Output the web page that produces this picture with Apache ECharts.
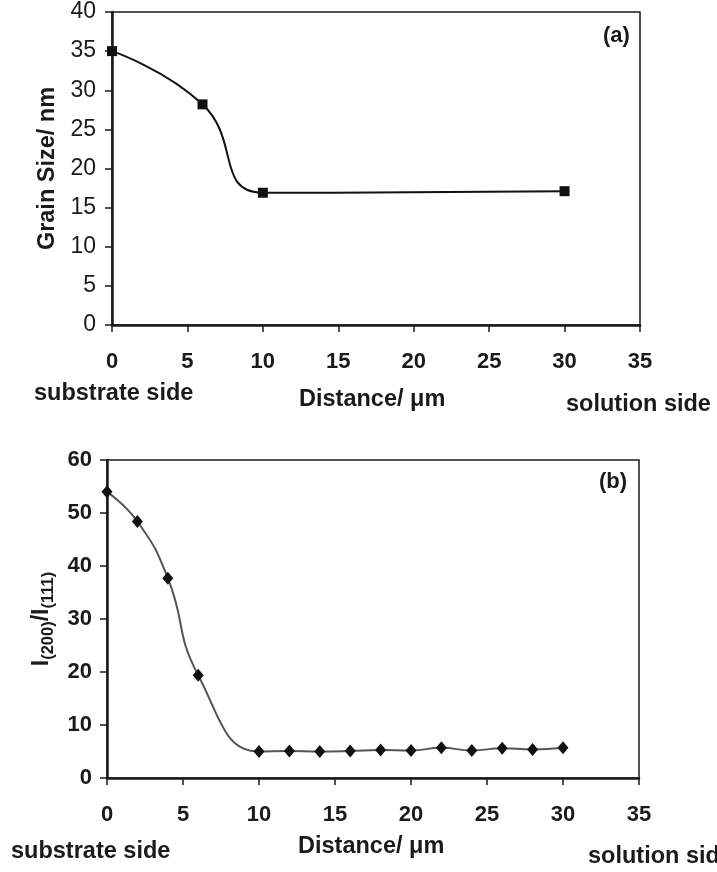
<!DOCTYPE html>
<html>
<head>
<meta charset="utf-8">
<script src="https://cdn.jsdelivr.net/npm/echarts@6/dist/echarts.min.js"></script>
<style>
html,body{margin:0;padding:0;background:#fff;}
#chart{width:717px;height:872px;}
</style>
</head>
<body>
<div id="chart"></div>
<script>
// ---- data ----
const distA = [0, 6, 10, 30];
const grainSize = [35.0, 28.2, 16.9, 17.1];
const distB = [0, 2, 4, 6, 10, 12, 14, 16, 18, 20, 22, 24, 26, 28, 30];
const intensityRatio = [54.0, 48.4, 37.7, 19.4, 5.0, 5.1, 5.0, 5.1, 5.3, 5.2, 5.7, 5.2, 5.6, 5.4, 5.7];
const xTicks = [0, 5, 10, 15, 20, 25, 30, 35];
const yTicksA = [0, 5, 10, 15, 20, 25, 30, 35, 40];
const yTicksB = [0, 10, 20, 30, 40, 50, 60];

const FONT = '"Liberation Sans", Arial, sans-serif';
const INK = '#1a1a1a';

function pairs(xs, ys) { return xs.map((x, i) => [x, ys[i]]); }

const chart = echarts.init(document.getElementById('chart'), null, {renderer: 'canvas'});

function xAxisCfg(gridIndex) {
  return {
    type: 'value', gridIndex: gridIndex,
    min: xTicks[0], max: xTicks[xTicks.length - 1], interval: 5,
    axisLine: {show: true, lineStyle: {color: INK, width: 2.5}},
    axisTick: {show: true, inside: false, length: 7, lineStyle: {color: INK, width: 1.5}},
    axisLabel: {show: true, margin: 26, fontFamily: FONT, fontWeight: 'bold', fontSize: 22, color: INK},
    splitLine: {show: false}
  };
}

const option = {
  animation: false,
  backgroundColor: '#fff',
  grid: [
    {left: 112, top: 12, width: 528, height: 313, show: true, borderColor: INK, borderWidth: 1.5, containLabel: false},
    {left: 107, top: 460, width: 532, height: 318, show: true, borderColor: INK, borderWidth: 1.5, containLabel: false}
  ],
  xAxis: [xAxisCfg(0), xAxisCfg(1)],
  yAxis: [
    {
      type: 'value', gridIndex: 0,
      min: yTicksA[0], max: yTicksA[yTicksA.length - 1], interval: 5,
      axisLine: {show: true, lineStyle: {color: INK, width: 2.5}},
      axisTick: {show: true, length: 7, lineStyle: {color: INK, width: 1.5}},
      axisLabel: {margin: 16, fontFamily: FONT, fontSize: 23, color: INK},
      splitLine: {show: false},
      name: 'Grain Size/ nm', nameLocation: 'middle', nameRotate: 90, nameGap: 52,
      nameTextStyle: {fontFamily: FONT, fontWeight: 'bold', fontSize: 23.5, color: INK}
    },
    {
      type: 'value', gridIndex: 1,
      min: yTicksB[0], max: yTicksB[yTicksB.length - 1], interval: 10,
      axisLine: {show: true, lineStyle: {color: INK, width: 2.5}},
      axisTick: {show: true, length: 7, lineStyle: {color: INK, width: 1.5}},
      axisLabel: {margin: 15, fontFamily: FONT, fontWeight: 'bold', fontSize: 22, color: INK},
      splitLine: {show: false},
      name: '{b|I}{s|(200)}{b|/I}{s|(111)}', nameLocation: 'middle', nameRotate: 90, nameGap: 50,
      nameTextStyle: {
        fontFamily: FONT, fontWeight: 'bold', fontSize: 23, color: INK,
        rich: {
          b: {fontFamily: FONT, fontWeight: 'bold', fontSize: 23, color: INK, lineHeight: 30, verticalAlign: 'middle'},
          s: {fontFamily: FONT, fontWeight: 'bold', fontSize: 16.5, color: INK, lineHeight: 30, verticalAlign: 'bottom', padding: [8, 0, 0, 0]}
        }
      }
    }
  ],
  series: [
    {
      type: 'line', xAxisIndex: 0, yAxisIndex: 0,
      data: pairs(distA, grainSize),
      smooth: 0.5,
      symbol: 'rect', symbolSize: 10,
      lineStyle: {color: '#111', width: 2},
      itemStyle: {color: '#111'}
    },
    {
      type: 'line', xAxisIndex: 1, yAxisIndex: 1,
      data: pairs(distB, intensityRatio),
      smooth: 0.5,
      symbol: 'diamond', symbolSize: [11, 13],
      lineStyle: {color: '#555', width: 2},
      itemStyle: {color: '#111'}
    }
  ],
  graphic: [
    {type: 'text', left: 603, top: 25, style: {text: '(a)', font: 'bold 22px ' + FONT, fill: INK}},
    {type: 'text', left: 34, top: 382, style: {text: 'substrate side', font: 'bold 23.5px ' + FONT, fill: INK}},
    {type: 'text', left: 299, top: 388, style: {text: 'Distance/ μm', font: 'bold 23.5px ' + FONT, fill: INK}},
    {type: 'text', left: 566, top: 393, style: {text: 'solution side', font: 'bold 23.5px ' + FONT, fill: INK}},
    {type: 'text', left: 599, top: 471, style: {text: '(b)', font: 'bold 22px ' + FONT, fill: INK}},
    {type: 'text', left: 11, top: 840, style: {text: 'substrate side', font: 'bold 23.5px ' + FONT, fill: INK}},
    {type: 'text', left: 298, top: 835, style: {text: 'Distance/ μm', font: 'bold 23.5px ' + FONT, fill: INK}},
    {type: 'text', left: 588, top: 845, style: {text: 'solution side', font: 'bold 23.5px ' + FONT, fill: INK}}
  ]
};
chart.setOption(option);
</script>
</body>
</html>
